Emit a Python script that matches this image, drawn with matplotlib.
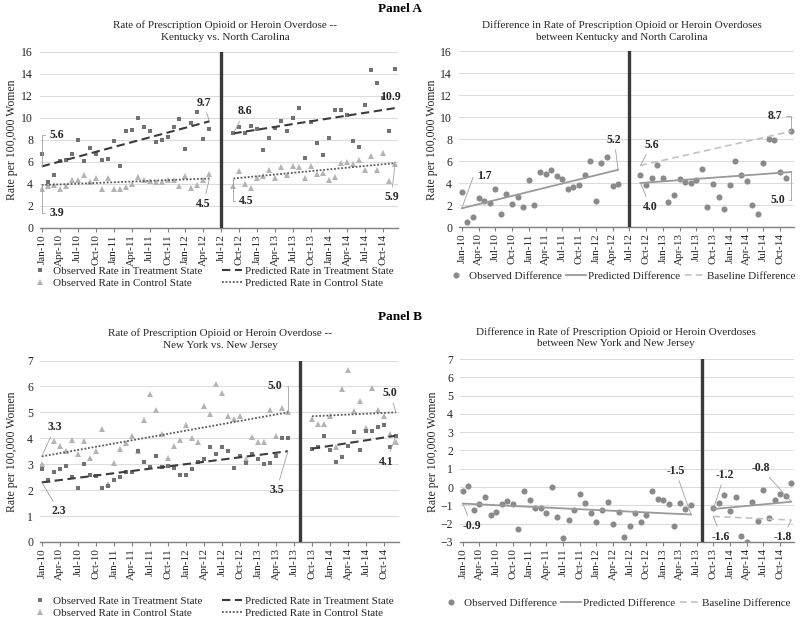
import matplotlib
matplotlib.use("Agg")
import matplotlib.pyplot as plt
from matplotlib.lines import Line2D

plt.rcParams['font.family'] = ['Liberation Serif', 'DejaVu Serif']

# x axis: month index, 0 = Jan-10 ... 59 = Dec-14
tick_pos = [0, 3, 6, 9, 12, 15, 18, 21, 24, 27, 30, 33, 36, 39, 42, 45, 48, 51, 54, 57]
tick_labels = ['Jan-10', 'Apr-10', 'Jul-10', 'Oct-10', 'Jan-11', 'Apr-11', 'Jul-11', 'Oct-11',
               'Jan-12', 'Apr-12', 'Jul-12', 'Oct-12', 'Jan-13', 'Apr-13', 'Jul-13', 'Oct-13',
               'Jan-14', 'Apr-14', 'Jul-14', 'Oct-14']

# ---- Panel A: Kentucky (treatment) vs North Carolina (control)
ky_months_pre = list(range(0, 29))     # Jan-10 .. May-12
ky_months_post = list(range(32, 60))   # Sep-12 .. Dec-14
ky_policy = 30                         # Jul-12
ky_treat_pre = [6.7, 4.2, 4.8, 6.1, 6.2, 6.7, 8.0, 6.1, 7.3, 6.7, 6.2, 6.3, 7.9, 5.6, 8.8,
                8.9, 10.0, 9.2, 8.8, 7.8, 8.0, 8.3, 9.2, 9.9, 7.2, 9.5, 10.5, 8.1, 9.0]
ky_treat_post = [8.6, 9.2, 8.6, 9.3, 9.0, 7.1, 8.2, 9.1, 9.7, 8.8, 10.0, 10.9, 6.4, 9.6,
                 7.7, 6.6, 8.2, 10.7, 10.7, 10.3, 7.9, 7.4, 11.2, 14.4, 13.2, 11.8, 8.8, 14.5]
ky_ctrl_pre = [3.5, 3.8, 3.9, 3.5, 3.8, 4.4, 4.4, 4.8, 4.2, 4.5, 3.5, 4.5, 3.5, 3.5, 3.7,
               4.0, 4.6, 4.4, 4.3, 4.2, 4.2, 4.4, 4.4, 3.8, 4.7, 3.6, 3.9, 4.4, 4.9]
ky_ctrl_post = [3.8, 5.2, 4.0, 3.6, 4.5, 4.7, 5.3, 4.5, 5.5, 4.8, 5.6, 5.5, 4.5, 5.6,
                4.9, 5.0, 4.4, 4.6, 5.9, 6.0, 5.8, 6.2, 5.3, 6.5, 5.3, 6.8, 4.3, 5.8]
ky_diff_pre = [3.2, 0.5, 0.9, 2.6, 2.4, 2.2, 3.5, 1.2, 3.0, 2.1, 2.7, 1.8, 4.3, 2.0, 5.0,
               4.8, 5.2, 4.6, 4.4, 3.5, 3.6, 3.8, 4.7, 6.0, 2.4, 5.8, 6.4, 3.7, 3.9]
ky_diff_post = [4.7, 3.8, 4.5, 5.6, 4.5, 2.3, 2.9, 4.4, 4.1, 4.0, 4.3, 5.3, 1.8, 3.9,
                2.7, 1.6, 3.8, 6.0, 4.7, 4.2, 2.0, 1.2, 5.8, 8.0, 7.9, 5.0, 4.5, 8.7]
# fitted lines (start, end)
ky_treat_fit_pre = [5.6, 9.7]
ky_treat_fit_post = [8.6, 10.9]
ky_ctrl_fit_pre = [3.9, 4.5]
ky_ctrl_fit_post = [4.5, 5.9]
ky_diff_fit_pre = [1.7, 5.2]
ky_diff_fit_post = [4.0, 5.0]
ky_diff_base = [5.6, 8.7]

# ---- Panel B: New York (treatment) vs New Jersey (control)
ny_months_pre = list(range(0, 42))     # Jan-10 .. Jun-13
ny_months_post = list(range(45, 60))   # Oct-13 .. Dec-14
ny_policy = 43                         # Aug-13
ny_treat_pre = [2.8, 2.4, 2.7, 2.8, 2.95, 2.5, 2.1, 3.0, 2.6, 2.55, 2.1, 2.15, 2.4, 2.5,
                2.7, 2.7, 3.5, 3.1, 2.9, 3.3, 2.9, 2.95, 2.85, 2.6, 2.6, 2.8, 3.1, 3.2,
                3.65, 3.4, 3.65, 3.5, 2.85, 3.3, 3.05, 3.4, 3.2, 3.0, 3.05, 3.3, 4.0, 4.0]
ny_treat_post = [3.6, 3.65, 4.1, 3.55, 3.1, 3.27, 3.7, 4.25, 3.55, 4.3, 4.3, 4.45, 4.5, 3.65, 4.1]
ny_ctrl_pre = [3.0, 2.4, 3.9, 3.7, 3.5, 3.95, 3.4, 3.9, 3.25, 3.5, 4.35, 2.25, 3.05, 3.6,
               3.8, 4.1, 3.5, 4.7, 5.7, 5.1, 4.15, 3.25, 3.7, 3.95, 4.5, 4.0, 3.85, 5.25,
               4.95, 6.1, 5.75, 4.85, 4.75, 4.85, 3.2, 4.05, 3.85, 3.85, 5.1, 4.1, 5.15, 5.0]
ny_ctrl_post = [4.75, 4.55, 4.55, 4.85, 3.65, 5.9, 6.65, 5.05, 5.45, 4.4, 5.95, 5.1, 4.85, 4.15, 3.85]
ny_diff_pre = [-0.2, 0.05, -1.25, -0.9, -0.55, -1.5, -1.35, -0.9, -0.75, -0.95, -2.3, -0.2,
               -0.7, -1.15, -1.15, -1.4, 0.0, -1.65, -2.8, -1.8, -1.25, -0.35, -0.85, -1.4,
               -1.9, -1.25, -0.8, -2.0, -1.35, -2.7, -2.1, -1.4, -1.9, -1.55, -0.2, -0.65,
               -0.7, -0.9, -2.1, -0.85, -1.2, -1.0]
ny_diff_post = [-1.15, -0.85, -0.45, -1.3, -0.55, -2.65, -3.0, -0.8, -1.85, -0.15, -1.7,
                -0.7, -0.35, -0.5, 0.25]
ny_treat_fit_pre = [2.3, 3.5]
ny_treat_fit_post = [3.6, 4.1]
ny_ctrl_fit_pre = [3.3, 5.0]
ny_ctrl_fit_post = [4.85, 5.0]
ny_diff_fit_pre = [-0.9, -1.5]
ny_diff_fit_post = [-1.2, -0.8]
ny_diff_base = [-1.6, -1.8]

C_TREAT = '#727272'
C_CTRL = '#b4b4b4'
C_TFIT = '#3c3c3c'
C_CFIT = '#5a5a5a'
C_DIFF = '#8a8a8a'
C_DFIT = '#9a9a9a'
C_BASE = '#c2c2c2'
C_LEAD = '#a0a0a0'
C_TEXT = '#262626'
FS = 8
LFS = 8.5   # data label size

fig = plt.figure(figsize=(8.03, 6.23), dpi=100)


def style_axes(ax, ylim, yticks, policy):
    ax.set_xlim(-0.3, 59.5)
    ax.set_ylim(*ylim)
    ax.set_yticks(yticks)
    ax.set_xticks(tick_pos)
    ax.set_xticklabels(tick_labels, rotation=90)
    ax.yaxis.grid(True, color='#dcdcdc', lw=0.8)
    ax.set_axisbelow(True)
    for s in ['top', 'right', 'left']:
        ax.spines[s].set_visible(False)
    ax.spines['bottom'].set_color('#808080')
    ax.spines['bottom'].set_linewidth(1.0)
    ax.tick_params(axis='y', length=0, labelsize=FS + 0.5, pad=5, labelcolor=C_TEXT)
    ax.tick_params(axis='x', length=3, color='#808080', labelsize=FS, pad=1.5, labelcolor=C_TEXT)
    ax.axvline(policy, color='#3a3a3a', lw=2.4, zorder=5)


def label(ax, txt, xy, xytext, elbow=None, ha='center'):
    props = dict(arrowstyle='-', color=C_LEAD, lw=0.6, shrinkA=1, shrinkB=0)
    if elbow is not None:
        props['connectionstyle'] = 'angle,angleA=0,angleB=%d,rad=0' % elbow
    ax.annotate(txt, xy=xy, xytext=xytext, textcoords='data', ha=ha, va='center',
                fontsize=LFS, fontweight='bold', color=C_TEXT, arrowprops=props,
                annotation_clip=False, zorder=6)


def rates_chart(ax, mpre, mpost, tpre, tpost, cpre, cpost, tfp, tfq, cfp, cfq):
    ax.plot(mpre, cpre, '^', color=C_CTRL, ms=3.8, mew=0, zorder=3)
    ax.plot(mpost, cpost, '^', color=C_CTRL, ms=3.8, mew=0, zorder=3)
    ax.plot(mpre, tpre, 's', color=C_TREAT, ms=3.2, mew=0, zorder=3)
    ax.plot(mpost, tpost, 's', color=C_TREAT, ms=3.2, mew=0, zorder=3)
    ax.plot([mpre[0], mpre[-1]], tfp, color=C_TFIT, lw=1.5, ls=(0, (4, 2.2)), zorder=4)
    ax.plot([mpost[0], mpost[-1]], tfq, color=C_TFIT, lw=1.5, ls=(0, (4, 2.2)), zorder=4)
    ax.plot([mpre[0], mpre[-1]], cfp, color=C_CFIT, lw=1.3, ls=(0, (1, 1)), zorder=4)
    ax.plot([mpost[0], mpost[-1]], cfq, color=C_CFIT, lw=1.3, ls=(0, (1, 1)), zorder=4)


def diff_chart(ax, mpre, mpost, dpre, dpost, fp, fq, base):
    ax.plot(mpre, dpre, 'o', color=C_DIFF, ms=4.4, mew=0, zorder=3)
    ax.plot(mpost, dpost, 'o', color=C_DIFF, ms=4.4, mew=0, zorder=3)
    ax.plot([mpre[0], mpre[-1]], fp, color=C_DFIT, lw=1.3, zorder=4)
    ax.plot([mpost[0], mpost[-1]], fq, color=C_DFIT, lw=1.3, zorder=4)
    ax.plot([mpost[0], mpost[-1]], base, color=C_BASE, lw=1.2, ls=(0, (4, 2.5)), zorder=4)


def rates_legend(top):
    h = [Line2D([], [], marker='s', ls='none', color=C_TREAT, ms=3.2, mew=0),
         Line2D([], [], marker='^', ls='none', color=C_CTRL, ms=3.8, mew=0),
         Line2D([], [], color=C_TFIT, lw=1.5, ls=(0, (4, 2.2))),
         Line2D([], [], color=C_CFIT, lw=1.3, ls=(0, (1, 1)))]
    lab = ['Observed Rate in Treatment State', 'Observed Rate in Control State',
           'Predicted Rate in Treatment State', 'Predicted Rate in Control State']
    leg = fig.legend(h, lab, loc='upper left', bbox_to_anchor=(30 / 803, 1 - top / 623),
                     ncol=2, frameon=False, fontsize=FS, handlelength=1.8,
                     handletextpad=0.3, columnspacing=1.7, labelspacing=0.2,
                     borderpad=0, borderaxespad=0)
    for t in leg.get_texts():
        t.set_color(C_TEXT)


def diff_legend(top, cx):
    h = [Line2D([], [], marker='o', ls='none', color=C_DIFF, ms=4.4, mew=0),
         Line2D([], [], color=C_DFIT, lw=1.3),
         Line2D([], [], color=C_BASE, lw=1.2, ls=(0, (4, 2.5)))]
    lab = ['Observed Difference', 'Predicted Difference', 'Baseline Difference']
    leg = fig.legend(h, lab, loc='upper center', bbox_to_anchor=(cx / 803, 1 - top / 623),
                     ncol=3, frameon=False, fontsize=FS, handlelength=1.8,
                     handletextpad=0.2, columnspacing=0.4, borderpad=0, borderaxespad=0)
    for t in leg.get_texts():
        t.set_color(C_TEXT)


def ftext(x, y, s, color=C_TEXT, **kw):
    fig.text(x / 803, 1 - y / 623, s, ha='center', va='center', color=color, **kw)


# ---------------- Panel A ----------------
ftext(400, 9, 'Panel A', fontsize=9.5, fontweight='bold', color='black')
ftext(225, 25, 'Rate of Prescription Opioid or Heroin Overdose --', fontsize=FS)
ftext(225, 37, 'Kentucky vs. North Carolina', fontsize=FS)
ftext(622, 25, 'Difference in Rate of Prescription Opioid or Heroin Overdoses', fontsize=FS)
ftext(622, 37, 'between Kentucky and North Carolina', fontsize=FS)
ftext(12, 140, 'Rate per 100,000 Women', fontsize=FS + 0.5, rotation=90)
ftext(432, 140, 'Rate per 100,000 Women', fontsize=FS + 0.5, rotation=90)

ax1 = fig.add_axes([40 / 803, 1 - 228 / 623, 358 / 803, 176 / 623])
style_axes(ax1, (0, 16), [0, 2, 4, 6, 8, 10, 12, 14, 16], ky_policy)
rates_chart(ax1, ky_months_pre, ky_months_post, ky_treat_pre, ky_treat_post,
            ky_ctrl_pre, ky_ctrl_post, ky_treat_fit_pre, ky_treat_fit_post,
            ky_ctrl_fit_pre, ky_ctrl_fit_post)
label(ax1, '5.6', (0, ky_treat_fit_pre[0]), (1.3, 8.5), elbow=90, ha='left')
label(ax1, '3.9', (0, ky_ctrl_fit_pre[0]), (1.3, 1.4), elbow=90, ha='left')
label(ax1, '9.7', (28, ky_treat_fit_pre[1]), (27.0, 11.4))
label(ax1, '4.5', (28, ky_ctrl_fit_pre[1]), (27.0, 2.2))
label(ax1, '8.6', (32, ky_treat_fit_post[0]), (33.9, 10.6))
label(ax1, '4.5', (32, ky_ctrl_fit_post[0]), (33.0, 2.45), elbow=90, ha='left')
label(ax1, '10.9', (59, ky_treat_fit_post[1]), (58.2, 11.9))
label(ax1, '5.9', (59, ky_ctrl_fit_post[1]), (58.4, 2.8))
rates_legend(266)

ax2 = fig.add_axes([459 / 803, 1 - 227 / 623, 335 / 803, 176 / 623])
style_axes(ax2, (0, 16), [0, 2, 4, 6, 8, 10, 12, 14, 16], ky_policy)
ax2.set_xlim(-0.5, 59.5)
diff_chart(ax2, ky_months_pre, ky_months_post, ky_diff_pre, ky_diff_post,
           ky_diff_fit_pre, ky_diff_fit_post, ky_diff_base)
label(ax2, '1.7', (0, ky_diff_fit_pre[0]), (2.7, 4.6), elbow=70, ha='left')
label(ax2, '5.2', (28, ky_diff_fit_pre[1]), (27.3, 7.95))
label(ax2, '5.6', (32, ky_diff_base[0]), (34.0, 7.5))
label(ax2, '4.0', (32, ky_diff_fit_post[0]), (33.8, 1.85))
label(ax2, '8.7', (59, ky_diff_base[1]), (56.1, 10.1), elbow=90)
label(ax2, '5.0', (59, ky_diff_fit_post[1]), (56.6, 2.45), elbow=90)
diff_legend(271, 621)

# ---------------- Panel B ----------------
ftext(400, 317, 'Panel B', fontsize=9.5, fontweight='bold', color='black')
ftext(220, 333, 'Rate of Prescription Opioid or Heroin Overdose --', fontsize=FS)
ftext(220, 346, 'New York vs. New Jersey', fontsize=FS)
ftext(616, 332, 'Difference in Rate of Prescription Opioid or Heroin Overdoses', fontsize=FS)
ftext(616, 344, 'between New York and New Jersey', fontsize=FS)
ftext(12, 452, 'Rate per 100,000 Women', fontsize=FS + 0.5, rotation=90)
ftext(433, 452, 'Rate per 100,000 Women', fontsize=FS + 0.5, rotation=90)

ax3 = fig.add_axes([40 / 803, 1 - 542 / 623, 359 / 803, 181.5 / 623])
style_axes(ax3, (0, 7), [0, 1, 2, 3, 4, 5, 6, 7], ny_policy)
rates_chart(ax3, ny_months_pre, ny_months_post, ny_treat_pre, ny_treat_post,
            ny_ctrl_pre, ny_ctrl_post, ny_treat_fit_pre, ny_treat_fit_post,
            ny_ctrl_fit_pre, ny_ctrl_fit_post)
label(ax3, '3.3', (0, ny_ctrl_fit_pre[0]), (2.2, 4.43))
label(ax3, '2.3', (0, ny_treat_fit_pre[0]), (2.9, 1.18))
label(ax3, '5.0', (41, ny_ctrl_fit_pre[1]), (38.9, 6.0), elbow=90)
label(ax3, '3.5', (41, ny_treat_fit_pre[1]), (39.1, 2.0))
label(ax3, '5.0', (59, ny_ctrl_fit_post[1]), (58.0, 5.75))
label(ax3, '4.1', (59, ny_treat_fit_post[1]), (57.4, 3.1))
rates_legend(596)

ax4 = fig.add_axes([460 / 803, 1 - 542 / 623, 334 / 803, 183 / 623])
style_axes(ax4, (-3, 7), [-3, -2, -1, 0, 1, 2, 3, 4, 5, 6, 7], ny_policy)
ax4.set_xlim(-0.5, 59.5)
diff_chart(ax4, ny_months_pre, ny_months_post, ny_diff_pre, ny_diff_post,
           ny_diff_fit_pre, ny_diff_fit_post, ny_diff_base)
label(ax4, '-0.9', (0, ny_diff_fit_pre[0]), (1.6, -2.1))
label(ax4, '-1.5', (41, ny_diff_fit_pre[1]), (38.2, 0.9))
label(ax4, '-1.2', (45, ny_diff_fit_post[0]), (47.0, 0.67))
label(ax4, '-1.6', (45, ny_diff_base[0]), (46.4, -2.7))
label(ax4, '-0.8', (59, ny_diff_fit_post[1]), (53.5, 1.07))
label(ax4, '-1.8', (59, ny_diff_base[1]), (57.5, -2.73))
diff_legend(598, 616)

fig.savefig('out.png', dpi=100)
